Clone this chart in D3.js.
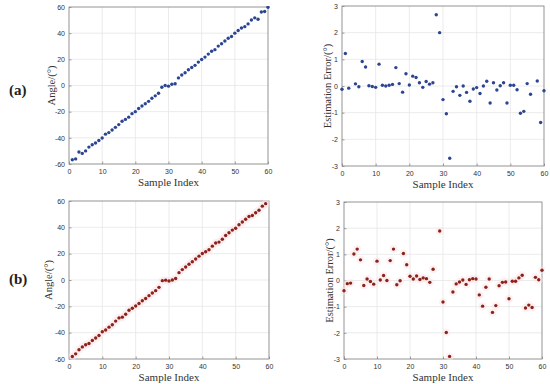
<!DOCTYPE html>
<html><head><meta charset="utf-8">
<script src="https://cdn.jsdelivr.net/npm/d3@7"></script>
<style>body{margin:0;background:#fff}svg{display:block}</style>
</head><body>
<svg id="c" width="550" height="384"></svg>
<script>
// ---- data ----
const xTicks = [0,10,20,30,40,50,60];
const angleTicks = [-60,-40,-20,0,20,40,60];
const errTicks = [-3,-2,-1,0,1,2,3];

const angleA = [-56.8,-56.1,-50.8,-51.9,-50.0,-47.1,-45.3,-44.0,-42.0,-40.1,
 -37.2,-36.0,-34.0,-32.0,-29.9,-27.3,-25.9,-24.2,-21.5,-20.0,
 -17.6,-15.7,-13.9,-12.1,-9.8,-7.9,-5.9,-1.3,0.0,-0.5,
 1.0,1.3,5.8,8.0,9.7,12.0,13.8,15.4,17.9,19.9,
 21.7,24.0,26.2,27.4,30.1,31.9,34.0,36.1,37.4,40.0,
 42.0,43.9,45.0,47.1,50.1,51.7,50.6,56.2,56.6,59.8]; // samples 1..60
const errA = [-0.12,1.22,-0.08,3.2,0.08,-0.03,0.92,0.71,0.01,-0.02,
 -0.05,0.82,0.03,0.0,0.03,0.06,0.69,0.09,-0.23,0.46,
 0.04,0.37,0.32,0.12,-0.05,0.17,0.07,0.12,2.67,2.0,
 -0.51,-1.04,-2.71,-0.2,-0.03,-0.35,0.0,-0.24,-0.57,-0.11,
 -0.06,-0.28,0.0,0.18,-0.64,0.12,-0.15,0.01,0.12,-0.64,
 0.03,0.03,-0.14,-1.02,-0.95,0.09,-0.31,-3.4,0.19,-1.37,-0.18]; // samples 0..60
const angleB = [-58.1,-56.1,-53.0,-50.8,-49.2,-48.2,-45.9,-44.0,-42.1,-39.3,
 -38.0,-35.8,-34.0,-31.2,-28.8,-28.2,-26.0,-23.0,-21.4,-19.8,
 -17.9,-15.8,-14.0,-11.9,-9.9,-8.1,-5.6,-0.5,-0.1,-0.8,
 0.0,1.1,5.6,7.9,9.9,12.0,13.9,16.0,18.1,20.1,
 21.5,23.0,25.7,28.1,28.8,31.0,33.8,35.9,37.9,39.3,
 42.0,44.0,46.1,48.2,49.0,51.1,53.0,56.1,58.0]; // samples 1..59
const errB = [-0.39,-0.12,-0.1,1.01,1.2,0.79,-0.19,0.06,-0.04,-0.14,
 0.74,0.02,0.19,0.0,0.76,1.2,-0.16,-0.01,1.03,0.6,
 0.16,0.06,0.17,0.04,0.1,0.07,-0.07,0.43,3.5,1.89,
 -0.82,-1.99,-2.9,-0.44,-0.13,-0.06,0.02,-0.15,0.03,0.07,
 0.06,-0.55,-0.98,-0.26,0.06,-1.22,-0.96,-0.2,-0.07,-0.06,
 -0.7,-0.03,-0.03,0.1,0.2,-1.05,-0.94,-1.03,0.12,0.03,0.39]; // samples 0..60

const svg = d3.select('#c');
let clipId = 0;
const fmt = d => String(d);

function panel(o){
  const x = d3.scaleLinear().domain([0,60]).range([o.x0,o.x1]);
  const y = d3.scaleLinear().domain(o.dom).range([o.y1,o.y0]);
  const g = svg.append('g');
  // grid
  g.selectAll('.vx').data(xTicks.slice(1,-1)).enter().append('line')
   .attr('x1',d=>x(d)).attr('x2',d=>x(d)).attr('y1',o.y0).attr('y2',o.y1)
   .attr('stroke','#e6e6e6').attr('stroke-width',0.8);
  g.selectAll('.hy').data(o.ticks.slice(1,-1)).enter().append('line')
   .attr('y1',d=>y(d)).attr('y2',d=>y(d)).attr('x1',o.x0).attr('x2',o.x1)
   .attr('stroke','#e6e6e6').attr('stroke-width',0.8);
  // axes
  const ax = g.append('g').attr('transform',`translate(0,${o.y1})`)
    .call(d3.axisBottom(x).tickValues(xTicks).tickFormat(fmt).tickSize(-2.5).tickPadding(5));
  const ay = g.append('g').attr('transform',`translate(${o.x0},0)`)
    .call(d3.axisLeft(y).tickValues(o.ticks).tickFormat(fmt).tickSize(-2.5).tickPadding(4));
  [ax,ay].forEach(a=>{
    a.select('.domain').remove();
    a.selectAll('line').attr('stroke','#777').attr('stroke-width',0.7);
    a.selectAll('text').attr('font-family','Arial, Liberation Sans, sans-serif')
      .attr('font-size',7).attr('fill','#333');
  });
  // box
  g.append('rect').attr('x',o.x0).attr('y',o.y0).attr('width',o.x1-o.x0).attr('height',o.y1-o.y0)
   .attr('fill','none').attr('stroke','#888').attr('stroke-width',0.9);
  // points
  const id = 'clip'+(clipId++);
  svg.append('clipPath').attr('id',id).append('rect')
    .attr('x',o.x0-3).attr('y',o.y0-1).attr('width',o.x1-o.x0+6).attr('height',o.y1-o.y0+2);
  const pts = o.data.map((v,i)=>({i:i+o.start,v}));
  const pg = g.append('g').attr('clip-path',`url(#${id})`);
  if(o.halo){
    pg.selectAll('.h').data(pts.filter(p=>p.v>=o.dom[0]&&p.v<=o.dom[1])).enter().append('circle')
      .attr('cx',p=>x(p.i)).attr('cy',p=>y(p.v)).attr('r',4).attr('fill',o.halo).attr('opacity',0.5);
  }
  pg.selectAll('.p').data(pts.filter(p=>p.v>=o.dom[0]&&p.v<=o.dom[1])).enter().append('circle')
    .attr('cx',p=>x(p.i)).attr('cy',p=>y(p.v)).attr('r',1.7).attr('fill',o.color);
  // labels
  g.append('text').attr('x',(o.x0+o.x1)/2).attr('y',o.y1+22).attr('text-anchor','middle')
   .attr('font-family','Liberation Serif, Times New Roman, serif').attr('font-size',11).attr('fill','#333')
   .text('Sample Index');
  g.append('text').attr('transform',`translate(${o.ylx},${(o.y0+o.y1)/2}) rotate(-90)`)
   .attr('text-anchor','middle').attr('font-family','Liberation Serif, Times New Roman, serif')
   .attr('font-size',10.5).attr('fill','#333').text(o.ylab);
}

panel({x0:69,x1:268,y0:7,y1:164,dom:[-60,60],ticks:angleTicks,data:angleA,start:1,color:'#2c4590',ylab:'Angle/(°)',ylx:55});
panel({x0:342,x1:544,y0:6,y1:166,dom:[-3,3],ticks:errTicks,data:errA,start:0,color:'#2c4590',ylab:'Estimation Error/(°)',ylx:331});
panel({x0:69,x1:269,y0:201,y1:359,dom:[-60,60],ticks:angleTicks,data:angleB,start:1,color:'#8a2418',halo:'#fbe3ea',ylab:'Angle/(°)',ylx:52});
panel({x0:344,x1:542,y0:202,y1:359,dom:[-3,3],ticks:errTicks,data:errB,start:0,color:'#8a2418',halo:'#fbe3ea',ylab:'Estimation Error/(°)',ylx:333});

svg.append('text').attr('x',9).attr('y',95).attr('font-family','Liberation Serif, Times New Roman, serif')
 .attr('font-weight','bold').attr('font-size',15).attr('fill','#222').text('(a)');
svg.append('text').attr('x',9).attr('y',284).attr('font-family','Liberation Serif, Times New Roman, serif')
 .attr('font-weight','bold').attr('font-size',15).attr('fill','#222').text('(b)');
</script>
</body></html>
